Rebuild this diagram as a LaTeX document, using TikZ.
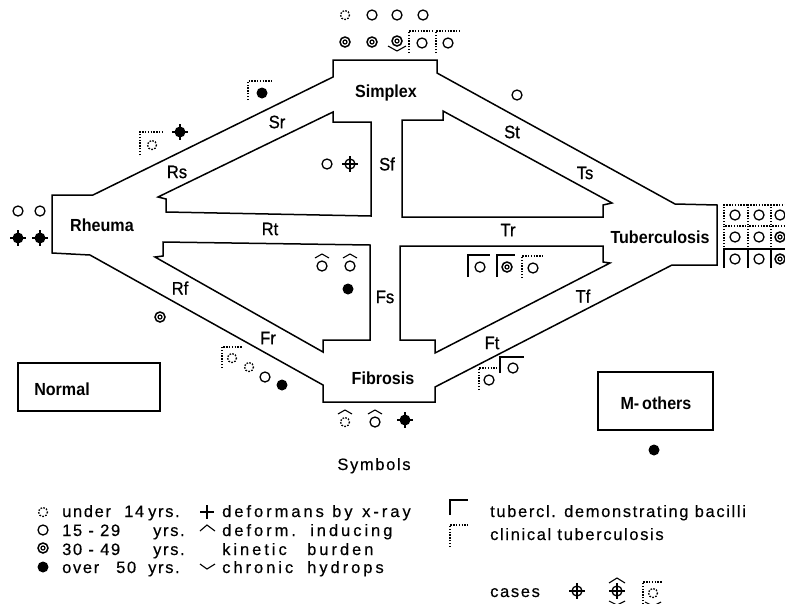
\documentclass[tikz,border=0pt]{standalone}
\usepackage{fontspec}
\setmainfont{Liberation Sans}
\newfontfamily\legfont[LetterSpace=10,FakeBold=0.4]{Liberation Sans}
\newfontfamily\legwfont[LetterSpace=18,FakeBold=0.4]{Liberation Sans}
\newfontfamily\namefont[FakeStretch=0.92]{Liberation Sans}
\newfontfamily\labfont[FakeStretch=0.92,FakeBold=0.8]{Liberation Sans}
\begin{document}
\begin{tikzpicture}[x=1pt,y=-1pt,
  outline/.style={line width=1.5pt, line join=miter},
  region/.style={font=\namefont\fontsize{17.5}{19}\selectfont\bfseries, inner sep=0pt},
  lab/.style={font=\labfont\fontsize{18}{20}\selectfont, inner sep=0pt},
  leg/.style={font=\legfont\fontsize{16.5}{18}\selectfont, inner sep=0pt, anchor=base west},
  legw/.style={leg, font=\legwfont\fontsize{16.5}{18}\selectfont},
  boxed/.style={draw, line width=1.3pt, rectangle, inner sep=0pt},
  dotline/.style={line width=1.4pt, dash pattern=on 1.4pt off 1.4pt},
  pics/yA/.style={code={\draw[line width=1.3pt, dash pattern=on 1.6pt off 1.4pt] (0,0) circle (4.5);}},
  pics/yB/.style={code={\draw[line width=1.3pt] (0,0) circle (5);}},
  pics/yC/.style={code={\draw[line width=1.5pt] (0,0) circle (5); \draw[line width=1.2pt] (0,0) circle (2);}},
  pics/yD/.style={code={\fill (0,0) circle (5.5);}},
  pics/xr/.style={code={\draw[line width=1.1pt] (-8,0) -- (8,0) (0,-8) -- (0,8);}},
  pics/hat/.style={code={\draw[line width=1.1pt] (-7,-8) -- (0,-12) -- (7,-8);}},
  pics/vee/.style={code={\draw[line width=1.1pt] (-9,5) -- (0,10) -- (9,5);}},
  pics/cs/.style args={#1/#2}{code={\draw[line width=1.2pt] (0,#2) -- (0,0) -- (#1,0);}},
  pics/cd/.style args={#1/#2}{code={\draw[dotline] (0,#2) -- (0,0) -- (#1,0);}},
]
\useasboundingbox (0,0) rectangle (785,603);

% outer outline
\draw[outline] (333,60) coordinate (o1) -- (437,60) -- (437,73) -- (675,204) -- (717,205)
  -- (717,265) -- (672,265) -- (435,387) -- (435,402) -- (323,402) -- (323,385)
  -- (90,255) -- (52,253) -- (52,195) -- (93,195) -- (333,77) -- cycle;
% inner islands
\draw[outline] (333,112) coordinate (ia) -- (333,122) -- (371,122) -- (371,216) -- (166,212)
  -- (166,199) -- (158,197) -- cycle;
\draw[outline] (443,111) coordinate (ib) -- (612,203) -- (603,205) -- (603,217) -- (402,217)
  -- (402,120) -- (443,120) -- cycle;
\draw[outline] (163,242) coordinate (ic) -- (370,245) -- (370,340) -- (323,340) -- (323,352)
  -- (155,257) -- (163,256) -- cycle;
\draw[outline] (400,246) coordinate (id) -- (603,246) -- (603,262) -- (610,263) -- (435,353)
  -- (435,340) -- (400,340) -- cycle;

% region names
\node[region] (simplex) at (386,93) {Simplex};
\node[region] (rheuma) at (102,225) {Rheuma};
\node[region] (tuberc) at (660,237) {Tuberculosis};
\node[region] (fibrosis) at (383,378) {Fibrosis};
\node[boxed, minimum width=142pt, minimum height=48pt] (normalbox) at (89,387) {};
\node[region] (normal) at (62,389) {Normal};
\node[boxed, minimum width=115pt, minimum height=58pt] (mobox) at (655.5,401) {};
\node[region] (mothers) at (656,403) {M-\,others};

% channel labels
\node[lab] (Sr) at (277,122) {Sr};
\node[lab] (Rs) at (177,172) {Rs};
\node[lab] (Sf) at (387,164) {Sf};
\node[lab] (St) at (512,132) {St};
\node[lab] (Ts) at (585,173) {Ts};
\node[lab] (Rt) at (270,229) {Rt};
\node[lab] (Tr) at (508,230) {Tr};
\node[lab] (Fs) at (385,297) {Fs};
\node[lab] (Rf) at (180,288) {Rf};
\node[lab] (Fr) at (268,338) {Fr};
\node[lab] (Tf) at (583,296) {Tf};
\node[lab] (Ft) at (492,343) {Ft};

% symbols: top of Simplex
\pic (t1) at (345,15) {yA};
\pic (t2) at (372,15) {yB};
\pic (t3) at (397,15) {yB};
\pic (t4) at (423,15) {yB};
\pic (t5) at (345,42) {yC};
\pic (t6) at (372,42) {yC};
\pic (t7) at (397,41) {yC};
\pic (t7v) at (397,41) {vee};
\pic (t8c) at (409,31) {cd=23/22};
\pic (t8) at (422,43) {yB};
\pic (t9c) at (436,31) {cd=24/22};
\pic (t9) at (448,43) {yB};
% Sr
\pic (sr1c) at (248,81) {cd=24/19};
\pic (sr1) at (262,93) {yD};
\pic (rs1c) at (140,132) {cd=22/23};
\pic (rs1) at (152,145) {yA};
\pic (rs2) at (180,132) {yD};
\pic (rs2x) at (180,132) {xr};
% Sf island
\pic (sf1) at (327,164) {yB};
\pic (sf2) at (350,164) {yB};
\pic (sf2x) at (350,164) {xr};
% St
\pic (st1) at (517,95) {yB};
% Rheuma
\pic (rh1) at (18,211) {yB};
\pic (rh2) at (40,211) {yB};
\pic (rh3) at (18,238) {yD};
\pic (rh3x) at (18,238) {xr};
\pic (rh4) at (40,238) {yD};
\pic (rh4x) at (40,238) {xr};
% Rf
\pic (rf1) at (160,317) {yC};
% lower-left island
\pic (fs1) at (322,266) {yB};
\pic (fs1h) at (322,266) {hat};
\pic (fs2) at (350,266) {yB};
\pic (fs2h) at (350,266) {hat};
\pic (fs3) at (348,289) {yD};
% Fr
\pic (fr1c) at (222,347) {cd=20/21};
\pic (fr1) at (232,358) {yA};
\pic (fr2) at (249,367) {yA};
\pic (fr3) at (265,377) {yB};
\pic (fr4) at (282,385) {yD};
% lower-right island
\pic (tr1c) at (468,255) {cs=22/22};
\pic (tr1) at (480,267) {yB};
\pic (tr2c) at (497,255) {cs=18/22};
\pic (tr2) at (507,267) {yC};
\pic (tr3c) at (522,256) {cd=21/22};
\pic (tr3) at (533,268) {yB};
% Ft
\pic (ft1c) at (479,368) {cd=18/22};
\pic (ft1) at (489,380) {yB};
\pic (ft2c) at (500,357) {cs=24/16};
\pic (ft2) at (513,368) {yB};
% Tuberculosis grid
\pic (g11c) at (724,205) {cd=23/20};
\pic (g11) at (735,215) {yB};
\pic (g12c) at (748,205) {cd=23/20};
\pic (g12) at (759,215) {yB};
\pic (g13c) at (771,205) {cd=23/20};
\pic (g13) at (780,215) {yB};
\pic (g21c) at (724,226) {cd=23/21};
\pic (g21) at (735,237) {yB};
\pic (g22c) at (748,226) {cd=23/21};
\pic (g22) at (759,237) {yB};
\pic (g23c) at (771,226) {cd=23/21};
\pic (g23) at (780,237) {yC};
\pic (g31c) at (724,249) {cs=23/19};
\pic (g31) at (735,259) {yB};
\pic (g32c) at (748,249) {cs=23/19};
\pic (g32) at (759,259) {yB};
\pic (g33c) at (771,249) {cs=23/19};
\pic (g33) at (780,259) {yC};
% Fibrosis
\pic (fb1) at (345,422) {yA};
\pic (fb1h) at (345,422) {hat};
\pic (fb2) at (375,422) {yB};
\pic (fb2h) at (375,422) {hat};
\pic (fb3) at (405,420) {yD};
\pic (fb3x) at (405,420) {xr};
% M-others
\pic (mo1) at (654,450) {yD};

% legend
\node[leg, anchor=base] (symbols) at (374,470) {Symbols};
\pic (l1) at (43,512) {yA};
\pic (l2) at (43,530) {yB};
\pic (l3) at (43,548) {yC};
\pic (l4) at (43,567) {yD};
\node[leg] (l1a) at (62,517) {under};
\node[leg] (l1b) at (124,517) {14};
\node[leg] (l1c) at (148,517) {yrs.};
\node[leg] (l2a) at (62,536) {15 - 29};
\node[leg] (l2b) at (153,536) {yrs.};
\node[leg] (l3a) at (62,555) {30 - 49};
\node[leg] (l3b) at (153,555) {yrs.};
\node[leg] (l4a) at (62,573) {over};
\node[leg] (l4b) at (116,573) {50};
\node[leg] (l4c) at (148,573) {yrs.};
\draw[line width=1.1pt] (200,512) -- (214,512) (207,505) -- (207,519);
\draw[line width=1.1pt] (200,531) -- (207,525) -- (215,531);
\draw[line width=1.1pt] (200,564) -- (207,569) -- (215,564);
\node[legw] (m1a) at (222,517) {deformans};
\node[legw] (m1b) at (332,517) {by};
\node[legw] (m1c) at (362,517) {x-ray};
\node[legw] (m2a) at (222,536) {deform.};
\node[legw] (m2b) at (310,536) {inducing};
\node[legw] (m3a) at (222,555) {kinetic};
\node[legw] (m3b) at (307,555) {burden};
\node[legw] (m4a) at (222,573) {chronic};
\node[legw] (m4b) at (307,573) {hydrops};
\pic (lc1) at (450,500) {cs=18/15};
\pic (lc2) at (450,525) {cd=18/22};
\node[leg] (r1) at (490,517) {tubercl. demonstrating bacilli};
\node[leg] (r2) at (490,540) {clinical tuberculosis};
\node[leg] (r3) at (490,597) {cases};
\pic (c1) at (577,591) {yB};
\pic (c1x) at (577,591) {xr};
\pic (c2) at (617,591) {yB};
\pic (c2x) at (617,591) {xr};
\draw[line width=1.1pt] (609,583) -- (617,578) -- (625,583);
\draw[line width=1.1pt] (609,601) -- (617,605) -- (625,601);
\pic (c3c) at (643,582) {cd=19/22};
\pic (c3) at (653,593) {yA};
\draw[line width=1.1pt] (645,602) -- (653,606) -- (661,602);
\end{tikzpicture}
\end{document}
